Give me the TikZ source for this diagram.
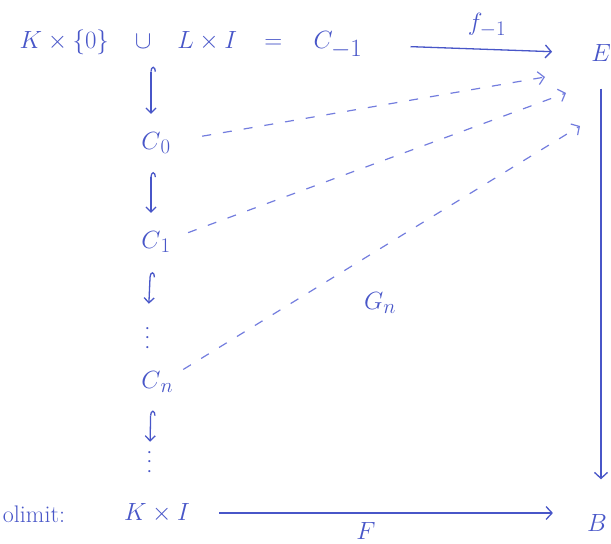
\documentclass[tikz,border=0pt]{standalone}
\usetikzlibrary{arrows.meta}
\definecolor{ink}{RGB}{72,86,200}
\definecolor{inkl}{RGB}{115,125,222}
\begin{document}
\begin{tikzpicture}[x=1pt,y=-1pt,
  lbl/.style={text=ink, inner sep=2pt, font=\fontsize{28}{32}\selectfont},
  big/.style={lbl, font=\fontsize{34}{38}\selectfont},
  small/.style={lbl, font=\fontsize{24}{28}\selectfont},
  dotsn/.style={lbl, font=\fontsize{20}{24}\selectfont},
  arr/.style={draw=ink, line width=1.3pt, -{Straight Barb[length=6pt,width=13pt]}},
  hk/.style={draw=ink, line width=1.3pt, {Hooks[right,length=5pt,width=10pt]}-{Straight Barb[length=5pt,width=10pt]}},
  dsh/.style={draw=inkl, line width=1.2pt, dash pattern=on 9pt off 12pt, -{Straight Barb[length=6pt,width=13pt]}}]
\useasboundingbox (0,0) rectangle (611,544);
% nodes
\node[big] (top) at (151,42) {$K\times\{0\}\hspace{0.6em}\cup\hspace{0.6em}L\times I\hspace{0.6em}=$};
\node[big] (Cm1) at (338,45) {$C_{-1}$};
\node[lbl] (E) at (601,53) {$E$};
\node[lbl] (fm1) at (487,25) {$f_{-1}$};
\node[lbl] (C0) at (151,143) {$C\rlap{$_0$}$};
\node[lbl] (C1) at (151,242) {$C\rlap{$_1$}$};
\node[dotsn] (d1) at (148,338) {\rotatebox{90}{$\cdots$}};
\node[lbl] (Cn) at (151,382) {$C\rlap{$_n$}$};
\node[dotsn] (d2) at (150,462) {\rotatebox{90}{$\cdots$}};
\node[small] (lim) at (34,514) {olimit:};
\node[lbl] (KI) at (157,513) {$K\times I$};
\node[lbl] (B) at (597,523) {$B$};
\node[lbl] (Gn) at (380,303) {$G_n$};
\node[lbl] (F) at (366,531) {$F$};
\coordinate (e0) at (545,77);
\coordinate (e1) at (566,93);
\coordinate (e2) at (580,126);
% hooks
\draw[hk, shorten <=10pt, shorten >=16pt] (top.south) -- (top.south |- C0.north);
\draw[hk, shorten <=16pt, shorten >=16pt] (C0.south) -- (C1.north);
\draw[hk, shorten <=17pt, shorten >=20pt] (C1.south) -- (d1.north);
\draw[hk, shorten <=16pt, shorten >=6pt] (Cn.south) -- (d2.north);
% solid arrows
\draw[arr, shorten <=46pt, shorten >=37pt] (Cm1.east) -- (E.west);
\draw[arr, shorten <=25pt, shorten >=33pt] (E.south) -- (E.south |- B.north);
\draw[arr, shorten <=27pt, shorten >=32pt] (KI.east) -- (KI.east -| B.west);
% dashed arrows
\draw[dsh, shorten <=40pt] (C0.east) -- (e0);
\draw[dsh, shorten <=27pt] (C1.east) -- (e1);
\draw[dsh, shorten <=24pt] (Cn.east) -- (e2);
\end{tikzpicture}
\end{document}
